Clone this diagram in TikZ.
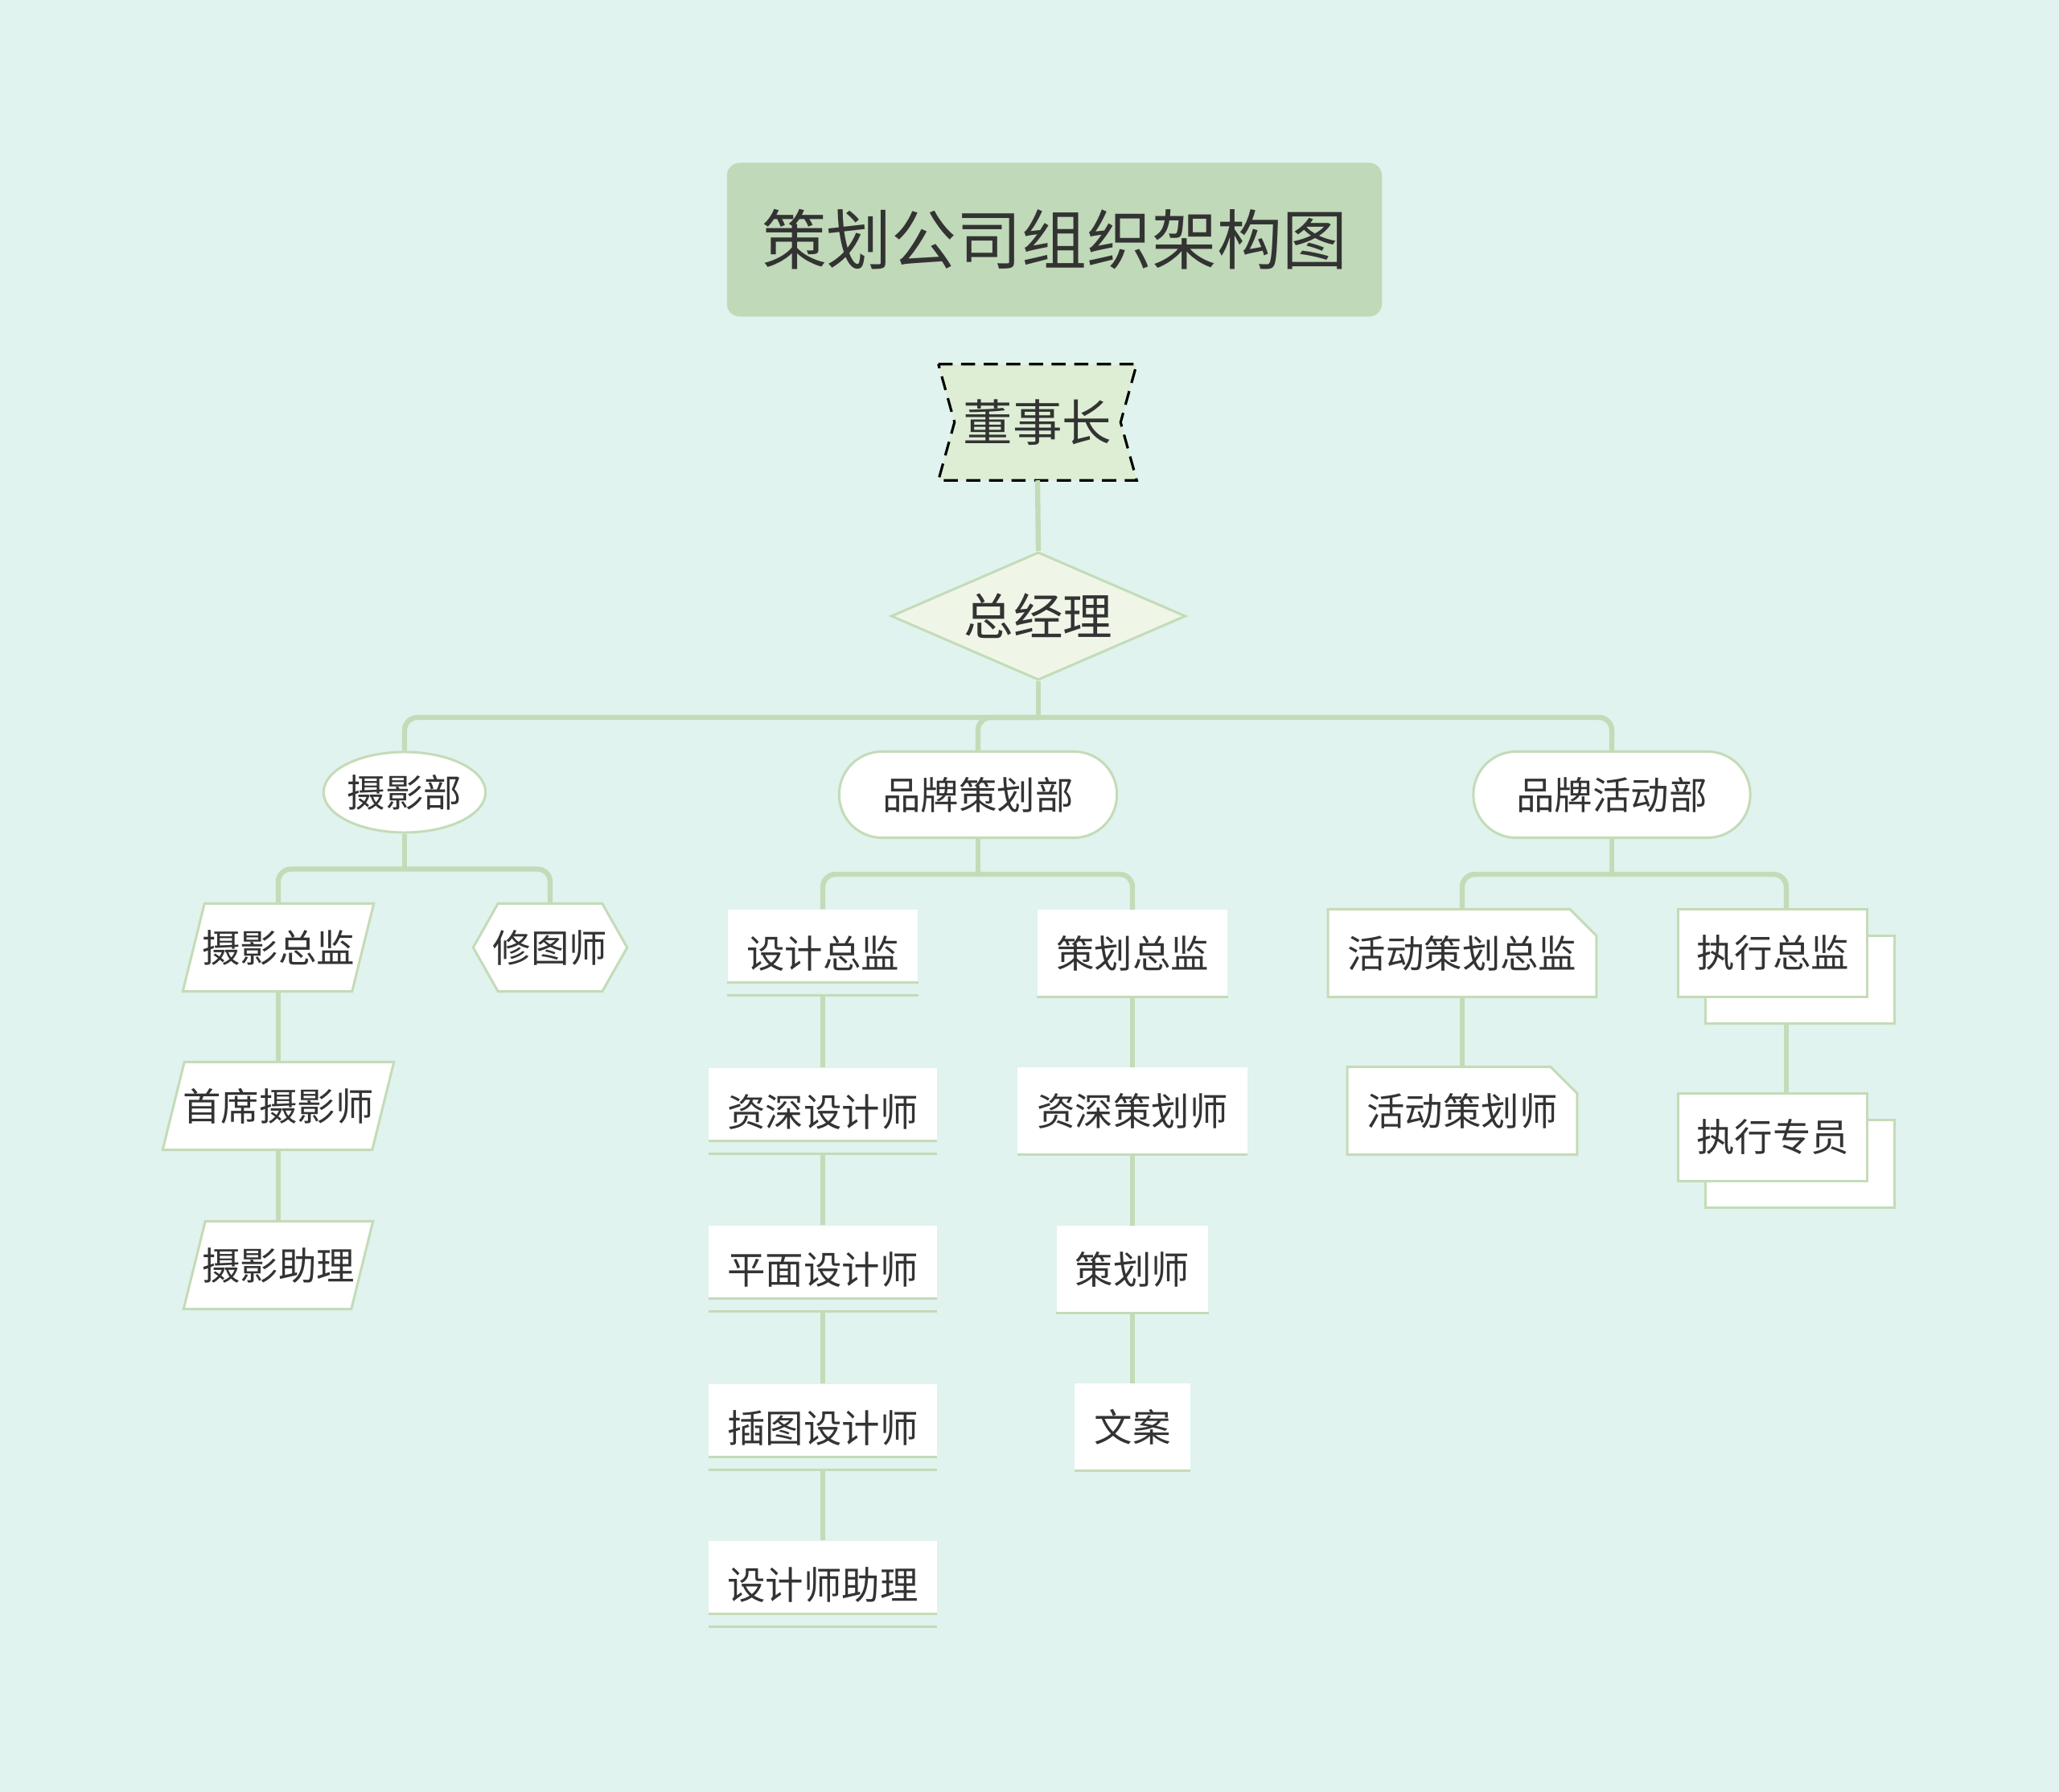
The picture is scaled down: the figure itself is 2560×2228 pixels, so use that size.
\documentclass[tikz,border=0pt]{standalone}
\usepackage{fontspec}
\newfontfamily\cjk{Noto Sans CJK SC}
\usetikzlibrary{shapes.geometric,shadows,backgrounds}

\definecolor{bgcol}{HTML}{E0F3EE}
\definecolor{titlecol}{HTML}{C0D9B8}
\definecolor{linecol}{HTML}{C4DBB8}
\definecolor{chaircol}{HTML}{DDEED5}
\definecolor{gmcol}{HTML}{EFF6E7}
\definecolor{txtcol}{HTML}{333333}

\tikzset{
  link/.style={draw=linecol, line width=1.8pt, rounded corners=4.5pt},
  edge/.style={draw=linecol, line width=0.85pt},
  big/.style={font=\cjk\fontsize{17.5}{20}\selectfont, text=txtcol},
  small/.style={font=\cjk\fontsize{13.5}{16}\selectfont, text=txtcol},
  box/.style={small, draw=linecol, line width=0.85pt, fill=white, inner sep=0pt},
  dept/.style={box, rounded corners=0.53cm, minimum height=1.07cm},
  plain/.style={small, fill=white, inner sep=0pt, minimum height=0.9cm, text height=15.5pt, text depth=0pt},
  underbox/.style={small, fill=white, inner sep=0pt, minimum height=1.07cm},
  shapebox/.style={small, inner sep=0pt, minimum height=1.08cm},
  stackbox/.style={box, minimum width=2.35cm, minimum height=1.08cm,
    copy shadow={shadow xshift=0.34cm, shadow yshift=-0.33cm, opacity=1,
      fill=white, draw=linecol, line width=0.85pt}},
}

\begin{document}
\begin{tikzpicture}[x=0.01cm, y=-0.01cm]
  \useasboundingbox (0,0) rectangle (2560,2228);

  \node[big, fill=titlecol, rounded corners=0.16cm, minimum width=8.14cm, minimum height=1.91cm,
    font=\cjk\fontsize{23}{28}\selectfont] (title) at (1311,298) {策划公司组织架构图};

  \node[big, inner sep=0pt, minimum width=2.45cm, minimum height=1.43cm] (chair) at (1290,525) {董事长};
  \node[big, diamond, aspect=2.3, draw=linecol, line width=0.85pt, fill=gmcol, inner sep=0pt,
    minimum width=3.66cm, minimum height=1.59cm] (gm) at (1291,766) {总经理};

  \node[box, ellipse, minimum width=1.99cm, minimum height=1.0cm] (photo) at (503,985) {摄影部};
  \node[dept, minimum width=3.45cm] (brand) at (1216,988) {品牌策划部};
  \node[dept, minimum width=3.44cm] (event) at (2004,988) {品牌活动部};

  % photo department
  \node[shapebox, minimum width=2.36cm] (pdir) at (346,1178) {摄影总监};
  \node[shapebox, minimum width=1.9cm] (retouch) at (684,1178) {修图师};
  \node[shapebox, minimum width=2.86cm] (chief) at (346,1375) {首席摄影师};
  \node[shapebox, minimum width=2.34cm] (passist) at (346,1573) {摄影助理};

  % brand planning department
  \node[plain, minimum width=2.36cm] (ddir) at (1023,1176) {设计总监};
  \node[plain, minimum width=2.83cm] (sdes) at (1023,1373) {资深设计师};
  \node[plain, minimum width=2.83cm] (gdes) at (1023,1569) {平面设计师};
  \node[plain, minimum width=2.83cm] (ides) at (1023,1766) {插图设计师};
  \node[plain, minimum width=2.83cm] (dasst) at (1023,1961) {设计师助理};

  \node[underbox, minimum width=2.36cm] (pldir) at (1408,1185) {策划总监};
  \node[underbox, minimum width=2.85cm] (splan) at (1408,1381) {资深策划师};
  \node[underbox, minimum width=1.88cm] (planner) at (1408,1578) {策划师};
  \node[underbox, minimum width=1.43cm] (writer) at (1408,1774) {文案};

  % brand event department
  \node[shapebox, minimum width=3.32cm] (edir) at (1818,1185) {活动策划总监};
  \node[shapebox, minimum width=2.84cm] (eplan) at (1818,1381) {活动策划师};
  \node[stackbox] (xdir) at (2204,1185) {执行总监};
  \node[stackbox] (xstaff) at (2204,1414) {执行专员};

  \foreach \n in {ddir,sdes,gdes,ides,dasst} {
    \draw[edge] (\n.south west) -- (\n.south east);
    \draw[edge] ([yshift=-0.16cm]\n.south west) -- ([yshift=-0.16cm]\n.south east);
  }
  \foreach \n in {pldir,splan,planner,writer}
    \draw[edge] (\n.south west) -- (\n.south east);

  % connectors
  \draw[link] (chair.south) -- (gm.north);
  \draw[link] (gm.south) -- ++(0,45) coordinate (gmbus);
  \foreach \n in {photo,brand,event}
    \draw[link] (gmbus) -| (\n.north);

  \draw[link] (photo.south) -- ++(0,44) coordinate (pbus);
  \draw[link] (pbus) -| (pdir.north);
  \draw[link] (pbus) -| (retouch.north);
  \draw[link] (pdir.south) -- (chief.north);
  \draw[link] (chief.south) -- (passist.north);

  \draw[link] (brand.south) -- ++(0,44) coordinate (bbus);
  \draw[link] (bbus) -| (ddir.north);
  \draw[link] (bbus) -| (pldir.north);
  \foreach \a/\b in {ddir/sdes,sdes/gdes,gdes/ides,ides/dasst}
    \draw[link] ([yshift=-0.17cm]\a.south) -- (\b.north);
  \foreach \a/\b in {pldir/splan,splan/planner,planner/writer}
    \draw[link] (\a.south) -- (\b.north);

  \draw[link] (event.south) -- ++(0,44) coordinate (ebus);
  \draw[link] (ebus) -| (edir.north);
  \draw[link] (ebus) -| ([xshift=0.17cm]xdir.north);
  \draw[link] (edir.south) -- (eplan.north);
  \draw[link] ([xshift=0.17cm,yshift=-0.33cm]xdir.south) -- ([xshift=0.17cm]xstaff.north);

  \begin{scope}[on background layer]
    \fill[bgcol] (0,0) rectangle (2560,2228);
    \draw[black, line width=0.9pt, dash pattern=on 5pt off 3pt, fill=chaircol]
      (chair.north west) -- (chair.north east) -- ([xshift=-0.2cm]chair.east)
      -- (chair.south east) -- (chair.south west) -- ([xshift=0.2cm]chair.west) -- cycle;
    \foreach \n in {pdir,chief,passist}
      \draw[edge, fill=white] ([xshift=0.27cm]\n.north west) -- (\n.north east)
        -- ([xshift=-0.27cm]\n.south east) -- (\n.south west) -- cycle;
    \draw[edge, fill=white] (retouch.west) -- ([xshift=0.31cm]retouch.north west)
      -- ([xshift=-0.31cm]retouch.north east) -- (retouch.east)
      -- ([xshift=-0.31cm]retouch.south east) -- ([xshift=0.31cm]retouch.south west) -- cycle;
    \foreach \n in {edir,eplan}
      \draw[edge, fill=white] (\n.south west) -- (\n.north west) -- ([xshift=-0.33cm]\n.north east)
        -- ([yshift=-0.33cm]\n.north east) -- (\n.south east) -- cycle;
  \end{scope}
\end{tikzpicture}
\end{document}
